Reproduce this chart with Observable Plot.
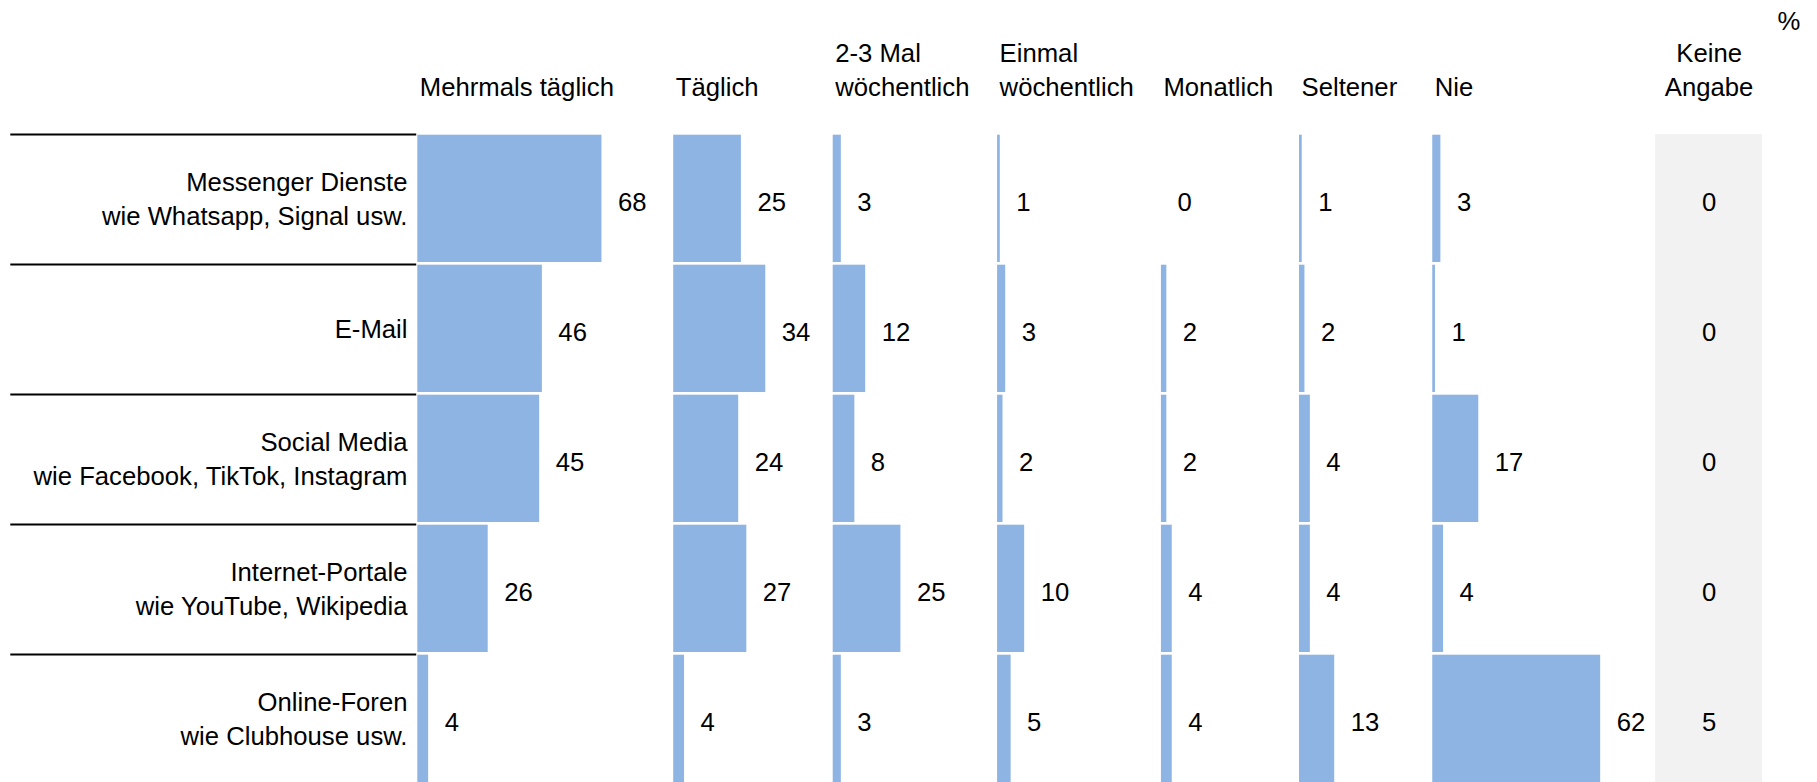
<!DOCTYPE html>
<html>
<head>
<meta charset="utf-8">
<script src="https://cdn.jsdelivr.net/npm/d3@7"></script>
<script src="https://cdn.jsdelivr.net/npm/@observablehq/plot@0.6"></script>
<style>
  html, body { margin: 0; padding: 0; background: #ffffff; }
  #chart svg { display: block; }
</style>
</head>
<body>
<div id="chart"></div>
<script>
// ---- Data ----
const categories = [
  "Messenger Dienste\nwie Whatsapp, Signal usw.",
  "E-Mail",
  "Social Media\nwie Facebook, TikTok, Instagram",
  "Internet-Portale\nwie YouTube, Wikipedia",
  "Online-Foren\nwie Clubhouse usw."
];
const frequencies = [
  "Mehrmals täglich",
  "Täglich",
  "2-3 Mal\nwöchentlich",
  "Einmal\nwöchentlich",
  "Monatlich",
  "Seltener",
  "Nie"
];
const mehrmalsTaeglich = [68, 46, 45, 26, 4];
const taeglich = [25, 34, 24, 27, 4];
const zweiDreiMal = [3, 12, 8, 25, 3];
const einmalWoechentlich = [1, 3, 2, 10, 5];
const monatlich = [0, 2, 2, 4, 4];
const seltener = [1, 2, 4, 4, 13];
const nie = [3, 1, 17, 4, 62];
const keineAngabeLabel = "Keine\nAngabe";
const keineAngabe = [0, 0, 0, 0, 5];
const unitLabel = "%";

// ---- Layout (in percent units of the x scale) ----
const colOffsets = [0, 94.5, 153.4, 214.1, 274.6, 325.6, 374.8];
const greyCol = [457.1, 496.6];
const pxPerPct = 2.708;
const W = 1817, H = 782;
const x0px = 417.3;
const rowPx = 130, topPx = 134;

const series = [mehrmalsTaeglich, taeglich, zweiDreiMal, einmalWoechentlich, monatlich, seltener, nie];

const bars = [];
series.forEach((vals, j) => {
  vals.forEach((v, i) => {
    bars.push({row: i, freq: frequencies[j], x1: colOffsets[j], x2: colOffsets[j] + v, value: v});
  });
});
const rows = categories.map((c, i) => ({row: i, label: c}));
const headers = frequencies.map((f, j) => ({label: f, x: colOffsets[j]}));
const keine = keineAngabe.map((v, i) => ({row: i, value: v}));

const font = "Liberation Sans, Arial, Helvetica, sans-serif";
const fs = 25.7;
const headerY = -0.3;

const chart = Plot.plot({
  width: W,
  height: H,
  marginLeft: 0,
  marginRight: 0,
  marginTop: 0,
  marginBottom: 0,
  style: {fontFamily: font, background: "#ffffff", color: "#000000"},
  x: {domain: [-x0px / pxPerPct, (W - x0px) / pxPerPct], range: [0, W], axis: null},
  y: {domain: [-topPx / rowPx, (H - topPx) / rowPx], range: [0, H], axis: null},
  marks: [
    // grey "Keine Angabe" column background
    Plot.rect([0], {x1: greyCol[0], x2: greyCol[1], y1: 0, y2: 5, fill: "#f2f2f2"}),
    // bars
    Plot.rect(bars, {
      x1: "x1", x2: "x2",
      y1: "row", y2: (d) => d.row + 1,
      insetTop: 0.7, insetBottom: 2,
      fill: "#8eb4e3"
    }),
    // row separator lines
    Plot.ruleY(rows, {y: "row", x1: -150.3, x2: -0.4, stroke: "#000000", strokeWidth: 2.2}),
    // row labels
    Plot.text(rows, {
      x: -3.8, y: (d) => d.row + 0.5, text: "label",
      textAnchor: "end", lineAnchor: "middle", lineHeight: 1.32,
      fontSize: fs, dy: -2, fill: "#000000"
    }),
    // value labels
    Plot.text(bars, {
      x: "x2", y: (d) => d.row + 0.5, text: (d) => String(d.value),
      textAnchor: "start", fontSize: fs, dx: 16, dy: 3, fill: "#000000"
    }),
    // Keine Angabe values
    Plot.text(keine, {
      x: (greyCol[0] + greyCol[1]) / 2, y: (d) => d.row + 0.5, text: (d) => String(d.value),
      textAnchor: "middle", fontSize: fs, dy: 3, fill: "#000000"
    }),
    // column headers
    Plot.text(headers, {
      x: "x", y: headerY, text: "label",
      textAnchor: "start", lineAnchor: "bottom", lineHeight: 1.32,
      fontSize: fs, dx: 2, fill: "#000000"
    }),
    Plot.text([keineAngabeLabel], {
      x: (greyCol[0] + greyCol[1]) / 2, y: headerY, text: (d) => d,
      textAnchor: "middle", lineAnchor: "bottom", lineHeight: 1.32,
      fontSize: fs, fill: "#000000"
    }),
    Plot.text([unitLabel], {
      x: (1777 - x0px) / pxPerPct, y: -105 / rowPx, text: (d) => d,
      textAnchor: "start", lineAnchor: "bottom", fontSize: fs, fill: "#000000"
    })
  ]
});
document.getElementById("chart").appendChild(chart);
</script>
</body>
</html>
